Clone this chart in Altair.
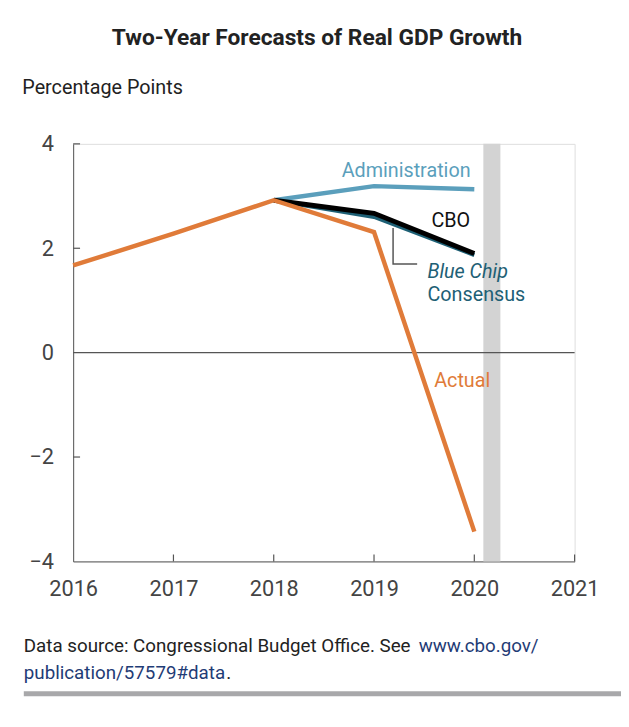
import altair as alt
import pandas as pd

# ---- data ----
years = [2016, 2017, 2018, 2019, 2020]
actual = [1.67, 2.28, 2.92, 2.31, -3.43]
fc_years = [2018, 2019, 2020]
administration = [2.92, 3.19, 3.13]
cbo = [2.92, 2.67, 1.90]
blue_chip = [2.92, 2.60, 1.87]
x_ticks = [2016, 2017, 2018, 2019, 2020, 2021]
y_ticks = [-4, -2, 0, 2, 4]
recession = [2020.09, 2020.26]

W, H = 508, 423
FONT = "Roboto"
AX = "#555555"

xs = alt.Scale(domain=[2016, 2021], nice=False, zero=False)
ys = alt.Scale(domain=[-4, 4], nice=False)

xaxis = alt.Axis(values=x_ticks, format="d", tickSize=0, labelFontSize=22,
                 labelColor="#444444", domainColor=AX, grid=False, labelPadding=18,
                 title=None, labelFlush=False)
yaxis = alt.Axis(values=y_ticks, tickSize=0, labelFontSize=22, labelColor="#444444",
                 domainColor=AX, grid=False, labelPadding=20,
                 title="Percentage Points", titleAngle=0, titleAlign="left",
                 titleBaseline="alphabetic", titleX=-52, titleY=-51,
                 titleFontSize=20, titleFontWeight="normal", titleColor="#222222")

series_df = pd.concat([
    pd.DataFrame({"year": years, "value": actual, "series": "Actual"}),
    pd.DataFrame({"year": fc_years, "value": administration, "series": "Administration"}),
    pd.DataFrame({"year": fc_years, "value": cbo, "series": "CBO"}),
    pd.DataFrame({"year": fc_years, "value": blue_chip, "series": "Blue Chip"}),
])

base = alt.Chart(series_df)

band = alt.Chart(pd.DataFrame({"x": [recession[0]], "x2": [recession[1]],
                               "y": [4], "y2": [-4]})).mark_rect(color="#d3d3d3").encode(
    x=alt.X("x:Q", scale=xs, axis=xaxis), x2="x2:Q",
    y=alt.Y("y:Q", scale=ys, axis=yaxis), y2="y2:Q")

zero = alt.Chart(pd.DataFrame({"x": [2016], "x2": [2021], "y": [0]})).mark_rule(
    color=AX, strokeWidth=1.2).encode(x=alt.X("x:Q", scale=xs), x2="x2:Q",
                                      y=alt.Y("y:Q", scale=ys))

def line(name, color, width):
    return base.transform_filter(alt.datum.series == name).mark_line(
        color=color, strokeWidth=width, strokeCap="butt", strokeJoin="miter").encode(
        x=alt.X("year:Q", scale=xs), y=alt.Y("value:Q", scale=ys))

l_admin = line("Administration", "#5b9fbc", 4.5)
l_blue = line("Blue Chip", "#1e6075", 4)
l_cbo = line("CBO", "#000000", 5)
l_actual = line("Actual", "#e07b39", 4.5)

leader = alt.Chart(pd.DataFrame({"x": [2019.19, 2019.19, 2019.43],
                                 "y": [2.39, 1.70, 1.70], "o": [0, 1, 2]})).mark_line(
    color="#555555", strokeWidth=1.5).encode(
    x=alt.X("x:Q", scale=xs), y=alt.Y("y:Q", scale=ys), order="o:Q")

lab_df = pd.DataFrame({
    "x": [2019.32, 2019.765, 2019.533, 2019.533, 2019.60],
    "y": [3.37, 2.41, 1.43, 0.98, -0.65],
    "t": ["Administration", "CBO", "Blue Chip", "Consensus", "Actual"],
    "c": ["#5b9fbc", "#111111", "#1e6075", "#1e6075", "#e07b39"],
    "a": ["center", "center", "left", "left", "left"],
    "s": ["normal", "normal", "italic", "normal", "normal"],
})

def label(i):
    r = lab_df.iloc[[i]]
    return alt.Chart(r).mark_text(align=r["a"].iloc[0], baseline="alphabetic",
                                  fontSize=20, font=FONT, fontStyle=r["s"].iloc[0],
                                  color=r["c"].iloc[0]).encode(
        x=alt.X("x:Q", scale=xs), y=alt.Y("y:Q", scale=ys), text="t:N")

labels = [label(i) for i in range(len(lab_df))]

xt = alt.Chart(pd.DataFrame({"x": x_ticks[1:]})).mark_rule(color=AX, strokeWidth=1.2).encode(
    x=alt.X("x:Q", scale=xs), y=alt.value(H), y2=alt.value(H - 7))
yt = alt.Chart(pd.DataFrame({"y": [4, 2, -2]})).mark_rule(color=AX, strokeWidth=1.2).encode(
    y=alt.Y("y:Q", scale=ys), x=alt.value(0), x2=alt.value(7))

def txt(t, x, y, size, color, weight="normal", align="left"):
    return alt.Chart(pd.DataFrame({"t": [t]})).mark_text(
        align=align, baseline="alphabetic", fontSize=size, font=FONT,
        fontWeight=weight, color=color).encode(
        text="t:N", x=alt.value(x), y=alt.value(y))

title = txt("Two-Year Forecasts of Real GDP Growth", 247, -100, 23, "#222222", "bold", "center")
f1 = txt("Data source: Congressional Budget Office. See", -50, 515, 19, "#222222")
f1b = txt("www.cbo.gov/", 350, 515, 19, "#1f3c76")
f2 = txt("publication/57579#data", -50, 542, 19, "#1f3c76")
f2b = txt(".", 155, 542, 19, "#222222")

frule = alt.Chart(pd.DataFrame({"a": [0]})).mark_rule(color="#a8a8aa", strokeWidth=5).encode(
    x=alt.value(-50), x2=alt.value(W + 60), y=alt.value(557))

chart = alt.layer(band, zero, l_admin, l_blue, l_cbo, l_actual, leader, *labels,
                  xt, yt, title, f1, f1b, f2, f2b, frule).properties(
    width=W, height=H,
    autosize=alt.AutoSizeParams(type="none"),
    padding={"left": 66, "top": 133, "right": 47, "bottom": 155},
).configure_view(stroke=None).configure(font=FONT)

chart.save("out.html", embed_options={"renderer": "svg", "actions": False})
